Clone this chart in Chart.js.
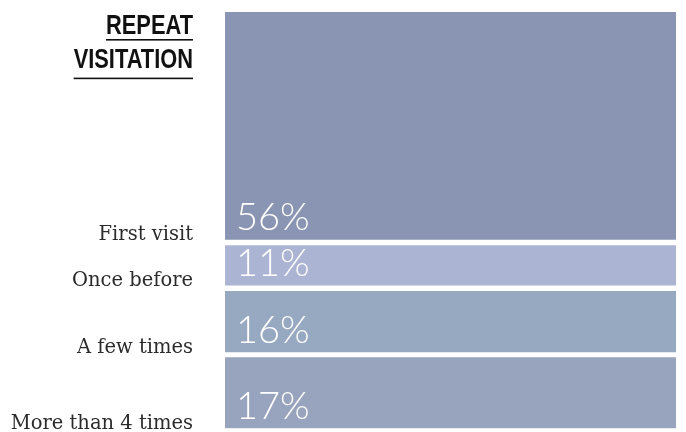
<!DOCTYPE html>
<html>
<head>
<meta charset="utf-8">
<script src="https://cdn.jsdelivr.net/npm/chart.js@4"></script>
<style>
  html, body { margin: 0; padding: 0; background: #fff; }
  #wrap { width: 686px; height: 432px; }
</style>
</head>
<body>
<div id="wrap"><canvas id="visitChart"></canvas></div>
<script>
// top to bottom, as in the picture
const categories = ["First visit", "Once before", "A few times", "More than 4 times"];
const values = [56, 11, 16, 17];
const colors = ["#8a95b3", "#abb4d3", "#97a9c1", "#98a3bd"];
const titleLines = ["REPEAT", "VISITATION"];

const GAP = 5.7;
const last = categories.length - 1;

// stacked bars start at the bottom, so feed them in reverse
const datasets = categories.map((name, i) => ({
  label: name,
  data: [values[i]],
  backgroundColor: colors[i],
  borderColor: "#ffffff",
  borderSkipped: false,
  borderWidth: { top: 0, left: 0, right: 0, bottom: i === last ? 0 : GAP },
  barPercentage: 1,
  categoryPercentage: 1
})).reverse();

const labelPlugin = {
  id: "segmentLabels",
  afterDatasetsDraw(chart) {
    const ctx = chart.ctx;
    ctx.save();
    chart.data.datasets.forEach((ds, di) => {
      const bar = chart.getDatasetMeta(di).data[0];
      const bottom = bar.base - ds.borderWidth.bottom;
      const left = bar.x - bar.width / 2;

      ctx.fillStyle = "#2b2b2b";
      ctx.font = '19.5px "DejaVu Serif"';
      ctx.textAlign = "right";
      ctx.textBaseline = "alphabetic";
      ctx.fillText(ds.label, 193, bottom + 1);

      ctx.fillStyle = "#ffffff";
      ctx.font = '300 38px "Lato"';
      ctx.textAlign = "left";
      ctx.fillText(ds.data[0] + "%", left + 11, bottom - 9);
    });

    // title: condensed bold caps, right aligned and underlined
    ctx.fillStyle = "#111111";
    ctx.font = 'bold 28.5px "Liberation Sans"';
    ctx.textAlign = "left";
    const sx = 87 / ctx.measureText(titleLines[0]).width;
    const baselines = [33.7, 68.3];
    const unders = [39, 77.6];
    titleLines.forEach((t, i) => {
      const w = ctx.measureText(t).width * sx;
      ctx.save();
      ctx.translate(193 - w, baselines[i]);
      ctx.scale(sx, 1);
      ctx.fillText(t, 0, 0);
      ctx.restore();
      ctx.fillRect(193 - w, unders[i], w, 1.6);
    });
    ctx.restore();
  }
};

new Chart(document.getElementById("visitChart"), {
  type: "bar",
  data: { labels: ["Visits"], datasets: datasets },
  options: {
    responsive: true,
    maintainAspectRatio: false,
    animation: false,
    layout: { padding: { left: 225, right: 10, top: 12, bottom: 3.7 } },
    plugins: { legend: { display: false }, tooltip: { enabled: false } },
    scales: {
      x: { display: false, stacked: true },
      y: { display: false, stacked: true, min: 0, max: 100 }
    }
  },
  plugins: [labelPlugin]
});
</script>
</body>
</html>
